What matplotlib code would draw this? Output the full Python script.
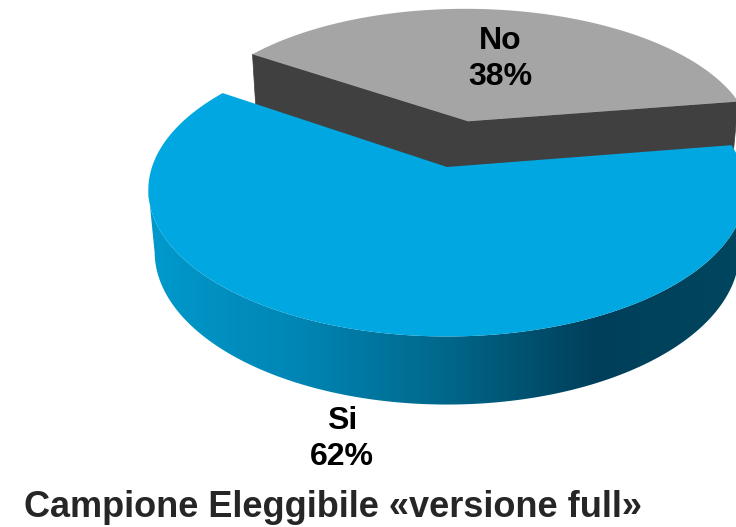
import numpy as np
import matplotlib
matplotlib.use("Agg")
import matplotlib.pyplot as plt
from matplotlib.patches import Polygon
from matplotlib.colors import LinearSegmentedColormap

# --- data -------------------------------------------------------------
categories = ["No", "Si"]
shares = [38, 62]
top_colors = ["#A5A5A5", "#00A7E1"]
cut_colors = ["#404040", "#0085B2"]
explode = [0.345, 0.0]
title = "Campione Eleggibile «versione full»"

# --- canvas -----------------------------------------------------------
W, H = 736, 527
fig = plt.figure(figsize=(W / 100, H / 100), dpi=100)
ax = fig.add_axes([0, 0, 1, 1])
ax.set_xlim(0, W)
ax.set_ylim(H, 0)
ax.axis("off")

# --- simple perspective camera for a 3-D pie --------------------------
tilt = np.radians(29)      # elevation of the view
k = 0.156                  # perspective strength (cos(tilt)/distance)
scale = 295.0              # pixels per unit radius at the centre depth
cx, cy = 447.0, 167.0      # screen position of the pie centre
depth = 0.242              # pie thickness in radius units
dist = np.cos(tilt) / k
start = 145.8              # angle where the first slice begins (deg, ccw from +x)


def project(x, y, z):
    x = np.atleast_1d(np.asarray(x, float))
    y = np.atleast_1d(np.asarray(y, float))
    z = np.atleast_1d(np.asarray(z, float))
    den = 1 + k * y - z * np.sin(tilt) / dist
    sx = cx + scale * x / den
    sy = cy - scale * (y * np.sin(tilt) + z * np.cos(tilt)) / den
    return np.column_stack([sx, sy])


def arc(a_from, a_to, off, z, n=200):
    t = np.radians(np.linspace(a_from, a_to, n))
    return project(np.cos(t) + off[0], np.sin(t) + off[1], np.full(n, z))


# slices run clockwise from the start angle
bounds = []
acc = start
for v in shares:
    span = v / sum(shares) * 360.0
    bounds.append((acc, acc - span))
    acc -= span

side_cmap = LinearSegmentedColormap.from_list(
    "side",
    [(0.0, "#0099CC"), (0.25, "#0086B4"), (0.5, "#00678A"),
     (0.75, "#003F5A"), (1.0, "#00465F")])

delta = np.degrees(np.arcsin(k))

for i in range(len(shares)):
    a0, a1 = bounds[i]
    mid = np.radians((a0 + a1) / 2)
    off = (explode[i] * np.cos(mid), explode[i] * np.sin(mid))

    # radial cut faces, drawn as one band (only the exploded slice shows them)
    if explode[i] > 0:
        r0, r1 = np.radians(a0), np.radians(a1)
        px = [off[0] + np.cos(r0), off[0], off[0] + np.cos(r1),
              off[0] + np.cos(r1), off[0], off[0] + np.cos(r0)]
        py = [off[1] + np.sin(r0), off[1], off[1] + np.sin(r1),
              off[1] + np.sin(r1), off[1], off[1] + np.sin(r0)]
        pz = [0, 0, 0, -depth, -depth, -depth]
        ax.add_patch(Polygon(project(px, py, pz), closed=True,
                             facecolor=cut_colors[i], edgecolor=cut_colors[i],
                             linewidth=0.5, zorder=1))

    # curved outer wall: front-facing part only
    lo = max(min(a0, a1), -180 + delta)
    hi = min(max(a0, a1), -delta)
    if hi > lo:
        top = arc(lo, hi, off, 0)
        bot = arc(hi, lo, off, -depth)
        wall = Polygon(np.vstack([top, bot]), closed=True,
                       facecolor="none", edgecolor="none", zorder=2)
        ax.add_patch(wall)
        grad = np.linspace(0, 1, 512).reshape(1, -1)
        img = ax.imshow(grad, cmap=side_cmap, aspect="auto",
                        extent=(148, 746, 420, 150), zorder=2,
                        interpolation="bilinear")
        img.set_clip_path(wall)

    # top face
    ctr = project(off[0], off[1], 0)
    rim = arc(a0, a1, off, 0, n=400)
    ax.add_patch(Polygon(np.vstack([ctr, rim]), closed=True,
                         facecolor=top_colors[i], edgecolor="none",
                         zorder=3 if explode[i] > 0 else 4))

# --- labels -----------------------------------------------------------
font = ["Liberation Sans", "DejaVu Sans"]
ax.text(500, 59, f"{categories[0]}\n{shares[0]}%", ha="center", va="center",
        fontsize=23, fontweight="bold", family=font, color="black",
        linespacing=1.3, zorder=6)
ax.text(342, 439, f"{categories[1]}\n{shares[1]}%", ha="center", va="center",
        fontsize=23, fontweight="bold", family=font, color="black",
        linespacing=1.3, zorder=6)
ax.text(333, 517, title, ha="center", va="baseline", fontsize=26,
        fontweight="bold", family=font, color="#262626", zorder=6)

fig.savefig("out.png", dpi=100)
